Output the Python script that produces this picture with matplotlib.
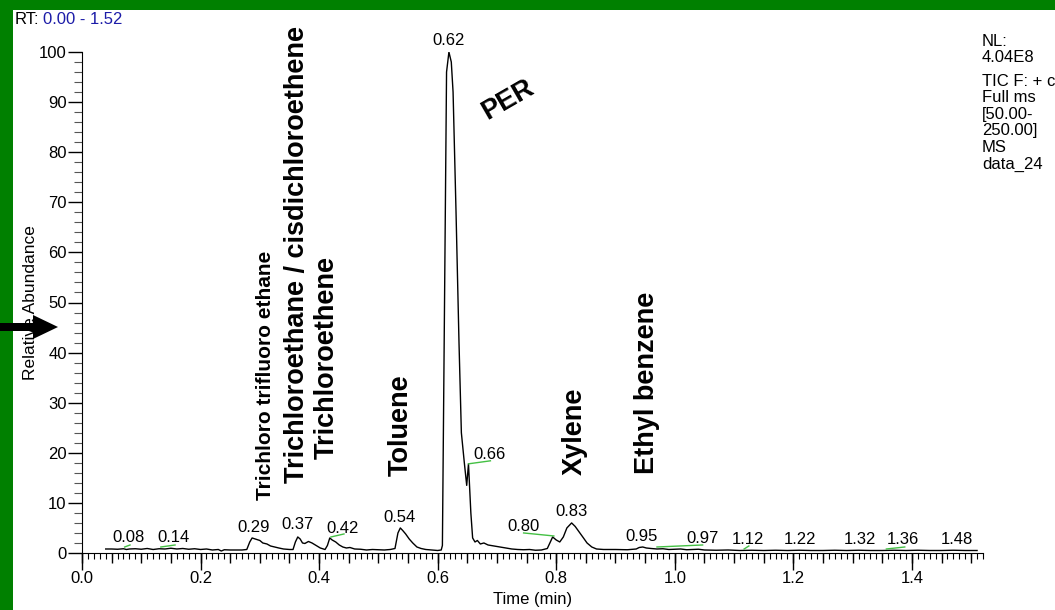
"""
TIC chromatogram of a solvent mix (PER and friends), redrawn.
"""

import numpy as np
import matplotlib.pyplot as plt
from matplotlib.patches import Rectangle, Polygon

plt.rcParams['font.family'] = ['Liberation Sans', 'DejaVu Sans']

# trace: time [min], relative abundance [%]
t = [0.040, 0.050, 0.060, 0.070, 0.075, 0.080, 0.090, 0.100, 0.110, 0.120,
     0.130, 0.140, 0.150, 0.160, 0.170, 0.180, 0.190, 0.200, 0.210, 0.220,
     0.230, 0.235, 0.240, 0.250, 0.260, 0.270, 0.278, 0.283, 0.287, 0.295,
     0.300, 0.305, 0.312, 0.318, 0.325, 0.332, 0.340, 0.350, 0.356, 0.360,
     0.364, 0.368, 0.372, 0.376, 0.382, 0.388, 0.395, 0.402, 0.410, 0.414,
     0.418, 0.422, 0.428, 0.434, 0.440, 0.446, 0.452, 0.460, 0.470, 0.480,
     0.490, 0.500, 0.510, 0.520, 0.528, 0.533, 0.537, 0.541, 0.546, 0.552,
     0.558, 0.565, 0.572, 0.580, 0.590, 0.600, 0.606, 0.608, 0.615, 0.619,
     0.623, 0.626, 0.631, 0.636, 0.640, 0.645, 0.649, 0.652, 0.656, 0.659,
     0.663, 0.667, 0.672, 0.678, 0.685, 0.695, 0.705, 0.715, 0.725, 0.735,
     0.745, 0.755, 0.765, 0.775, 0.785, 0.790, 0.794, 0.800, 0.806, 0.812,
     0.818, 0.826, 0.832, 0.840, 0.846, 0.852, 0.860, 0.868, 0.880, 0.900,
     0.920, 0.935, 0.940, 0.946, 0.952, 0.960, 0.970, 0.980, 0.990, 1.000,
     1.010, 1.020, 1.030, 1.040, 1.050, 1.070, 1.090, 1.110, 1.130, 1.150,
     1.170, 1.190, 1.210, 1.230, 1.250, 1.270, 1.290, 1.310, 1.330, 1.350,
     1.370, 1.390, 1.410, 1.430, 1.450, 1.470, 1.490, 1.510]
ab = [0.8, 0.8, 0.75, 0.85, 0.7, 0.8, 0.85, 0.75, 0.9, 0.7,
      0.85, 0.8, 0.95, 0.8, 0.9, 0.75, 0.85, 0.7, 0.8, 0.6,
      0.7, 0.4, 0.65, 0.6, 0.6, 0.6, 0.7, 2.2, 3.0, 2.7,
      2.5, 2.0, 1.8, 1.4, 1.2, 1.0, 0.8, 0.7, 0.7, 2.2,
      3.2, 2.8, 2.0, 1.9, 2.3, 2.0, 1.5, 1.0, 0.7, 1.5,
      3.0, 2.6, 2.2, 1.6, 1.2, 1.0, 1.1, 0.8, 0.75, 0.6,
      0.7, 0.65, 0.6, 0.7, 0.9, 4.0, 5.0, 4.5, 3.8, 2.8,
      2.0, 1.2, 0.9, 0.7, 0.6, 0.5, 0.6, 1.5, 96.0, 100.0,
      98.0, 92.0, 68.0, 42.0, 24.0, 18.0, 13.5, 17.8, 8.0, 3.0,
      2.2, 2.5, 1.8, 2.0, 1.6, 1.4, 1.2, 1.0, 0.8, 0.7,
      0.65, 0.7, 0.55, 0.6, 0.9, 2.2, 3.2, 2.6, 2.2, 3.2,
      5.0, 6.0, 5.3, 4.0, 3.0, 2.0, 1.2, 0.8, 0.7, 0.7,
      0.65, 0.8, 1.1, 1.2, 1.0, 0.9, 0.8, 0.85, 0.7, 0.75,
      0.8, 0.65, 0.7, 0.75, 0.6, 0.55, 0.6, 0.5, 0.55, 0.5,
      0.55, 0.5, 0.55, 0.5, 0.5, 0.55, 0.5, 0.55, 0.5, 0.5,
      0.55, 0.5, 0.55, 0.5, 0.5, 0.55, 0.5, 0.5]

# apex labels
pk_text = ['0.08', '0.14', '0.29', '0.37', '0.42', '0.54', '0.62', '0.66',
           '0.80', '0.83', '0.95', '0.97', '1.12', '1.22', '1.32', '1.36', '1.48']
pk_t = [0.078, 0.155, 0.289, 0.364, 0.440, 0.536, 0.619, 0.688,
        0.744, 0.825, 0.944, 1.047, 1.123, 1.212, 1.312, 1.385, 1.476]
pk_ab = [3.0, 3.0, 5.0, 5.6, 4.8, 7.0, 102.2, 19.6,
         5.2, 8.2, 3.2, 2.8, 2.6, 2.6, 2.6, 2.6, 2.6]

# little green integration baselines
bl_t0 = [0.072, 0.133, 0.420, 0.652, 0.745, 0.970, 1.117, 1.357]
bl_t1 = [0.081, 0.157, 0.442, 0.689, 0.796, 1.047, 1.125, 1.388]
bl_a0 = [1.2, 1.2, 3.2, 17.8, 4.0, 1.2, 0.8, 0.8]
bl_a1 = [1.6, 1.6, 3.8, 18.4, 3.4, 1.6, 1.4, 1.2]

# compound names (time, abundance of the text centre, angle, size)
names = ['Trichloro trifluoro ethane', 'Trichloroethane / cisdichloroethene',
         'Trichloroethene', 'Toluene', 'PER', 'Xylene', 'Ethyl benzene']
name_t = [0.309, 0.363, 0.413, 0.538, 0.718, 0.831, 0.954]
name_ab = [35.5, 59.5, 39.1, 25.5, 90.4, 24.2, 33.9]
name_rot = [90, 90, 90, 90, 30, 90, 90]
name_size = [15, 19.5, 19.5, 19.5, 19.5, 19.5, 19.5]

W, H = 1055, 610
fig = plt.figure(figsize=(W/100, H/100), dpi=100)
fig.patch.set_facecolor('#008000')
fig.add_artist(Rectangle((13/W, 0), 1, 1 - 10/H, transform=fig.transFigure,
                         facecolor='white', edgecolor='none', zorder=-5))

ax = fig.add_axes([82/W, 57/H, 901/W, 501/H])
ax.plot(t, ab, color='black', lw=1.0)
for i in range(len(bl_t0)):
    ax.plot([bl_t0[i], bl_t1[i]], [bl_a0[i], bl_a1[i]], color='#44c044', lw=1.0)
for s, x, y in zip(pk_text, pk_t, pk_ab):
    ax.text(x, y, s, ha='center', va='center', fontsize=12, clip_on=False)
for s, x, y, r, fs in zip(names, name_t, name_ab, name_rot, name_size):
    ax.text(x, y, s, ha='center', va='center', rotation=r, fontsize=fs,
            fontweight='bold', rotation_mode='anchor')

ax.set_xlim(0, 1.52)
ax.set_ylim(0, 100)
for sp in ['top', 'right']:
    ax.spines[sp].set_visible(False)
ax.set_xticks(np.arange(0, 1.41, 0.2))
ax.set_xticklabels(['%.1f' % v for v in np.arange(0, 1.41, 0.2)])
ax.set_xticks(np.arange(0, 1.521, 0.01), minor=True)
ax.set_yticks(np.arange(0, 101, 10))
ax.set_yticks(np.arange(0, 101, 2), minor=True)
ax.tick_params(axis='both', which='major', labelsize=12, pad=1)
ax.tick_params(axis='x', which='major', length=12, width=1)
ax.tick_params(axis='x', which='minor', length=4, width=0.8)
ax.tick_params(axis='y', which='major', length=10, width=1)
ax.tick_params(axis='y', which='minor', length=6, width=0.8, color='#555555')

sec = ax.secondary_xaxis('bottom')
sec.set_xticks(np.arange(0, 1.521, 0.05))
sec.tick_params(length=7, width=1, labelbottom=False)
sec.spines['bottom'].set_visible(False)

ax.set_xlabel('Time (min)', fontsize=12, labelpad=4)
ax.set_ylabel('Relative Abundance', fontsize=12.5)
ax.yaxis.set_label_coords(-44/901, 0.5)

# header and side notes
fig.text(15/W, 1 - 20/H, 'RT:', fontsize=12, va='center')
fig.text(43/W, 1 - 20/H, '0.00 - 1.52', fontsize=12, va='center', color='#1c1ca8')
side = ['NL:', '4.04E8', 'TIC F: + c', 'Full ms', '[50.00-', '250.00]', 'MS', 'data_24']
side_y = [41, 58, 81, 98, 114, 131, 147, 164]
for s, y in zip(side, side_y):
    fig.text(982/W, 1 - y/H, s, fontsize=12, va='center')

# the black pointer on the left
px = [0, 33, 33, 58, 33, 33, 0]
py = [323, 323, 315, 327, 339, 331, 331]
fig.add_artist(Polygon(np.column_stack([np.array(px)/100, (H - np.array(py))/100]),
                       closed=True, facecolor='black', edgecolor='none',
                       transform=fig.dpi_scale_trans, zorder=10))

fig.savefig('out.png', dpi=100, facecolor=fig.get_facecolor())
